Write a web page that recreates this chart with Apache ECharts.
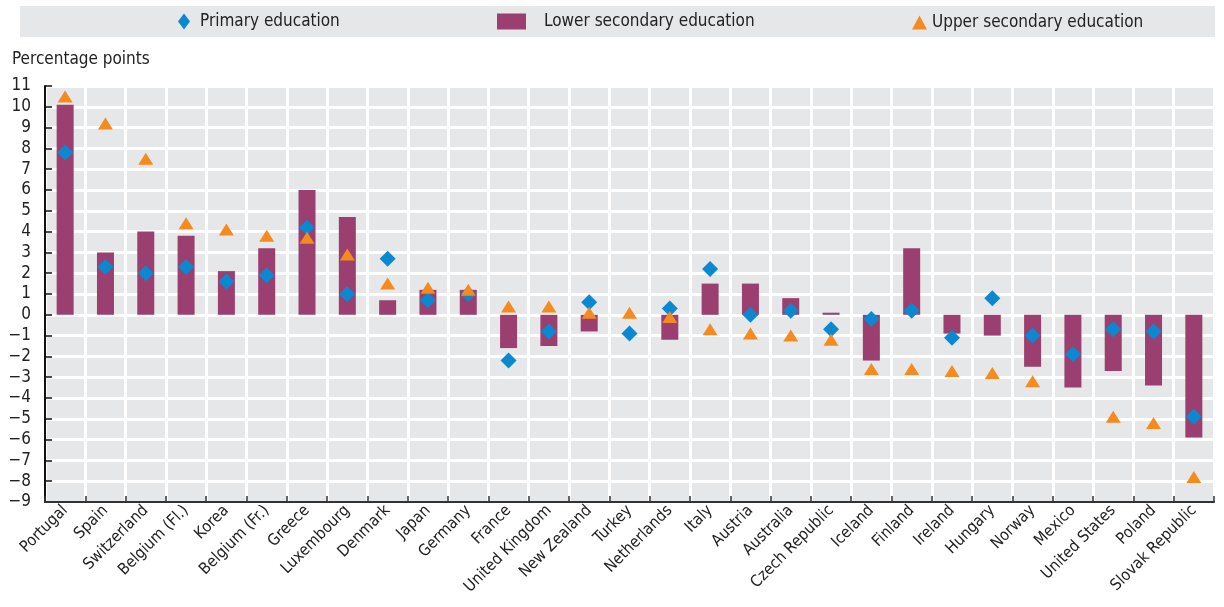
<!DOCTYPE html>
<html>
<head>
<meta charset="utf-8">
<title>Change in percentage points by education level</title>
<script src="https://cdn.jsdelivr.net/npm/echarts@6/dist/echarts.min.js"></script>
<style>
  html, body { margin: 0; padding: 0; background: #fff; }
  #chart { width: 1224px; height: 607px; }
</style>
</head>
<body>
<div id="chart"></div>
<script>
var countries = ['Portugal', 'Spain', 'Switzerland', 'Belgium (Fl.)', 'Korea', 'Belgium (Fr.)', 'Greece',
  'Luxembourg', 'Denmark', 'Japan', 'Germany', 'France', 'United Kingdom', 'New Zealand', 'Turkey',
  'Netherlands', 'Italy', 'Austria', 'Australia', 'Czech Republic', 'Iceland', 'Finland', 'Ireland',
  'Hungary', 'Norway', 'Mexico', 'United States', 'Poland', 'Slovak Republic'];

// bars
var lowerSecondary = [10.1, 3.0, 4.0, 3.8, 2.1, 3.2, 6.0, 4.7, 0.7, 1.2, 1.2, -1.6, -1.5, -0.8, null,
  -1.2, 1.5, 1.5, 0.8, 0.1, -2.2, 3.2, -0.9, -1.0, -2.5, -3.5, -2.7, -3.4, -5.9];
// diamonds
var primary = [7.8, 2.3, 2.0, 2.3, 1.6, 1.9, 4.2, 1.0, 2.7, 0.7, 1.0, -2.2, -0.8, 0.6, -0.9,
  0.3, 2.2, 0.0, 0.2, -0.7, -0.2, 0.2, -1.1, 0.8, -1.0, -1.9, -0.7, -0.8, -4.9];
// triangles
var upperSecondary = [10.5, 9.2, 7.5, 4.4, 4.1, 3.8, 3.7, 2.9, 1.5, 1.3, 1.2, 0.4, 0.4, 0.1, 0.1,
  -0.1, -0.7, -0.9, -1.0, -1.2, -2.6, -2.6, -2.7, -2.8, -3.2, null, -4.9, -5.2, -7.8];

var yMin = -9, yMax = 11, yStep = 1;

var FONT = "'Liberation Sans Narrow', 'DejaVu Sans Condensed', 'Roboto', sans-serif";
var GRAY = '#e6e7e8';

var myChart = echarts.init(document.getElementById('chart'));

var option = {
  animation: false,
  textStyle: { fontFamily: FONT, color: '#222' },
  graphic: [
    { type: 'rect', left: 20, top: 6, shape: { width: 1195, height: 31 }, style: { fill: GRAY }, z: -1 },
    { type: 'text', left: 12, top: 51, style: { text: 'Percentage points', font: '17px ' + FONT, fill: '#222' } }
  ],
  legend: [
    {
      data: [{ name: 'Primary education', icon: 'diamond' }],
      left: 178, top: 13, padding: 0, itemWidth: 12, itemHeight: 16,
      textStyle: { fontSize: 17, color: '#222', padding: [0, 0, 0, 5] }
    },
    {
      data: [{ name: 'Lower secondary education', icon: 'rect' }],
      left: 497, top: 13, padding: 0, itemWidth: 29, itemHeight: 16,
      textStyle: { fontSize: 17, color: '#222', padding: [0, 0, 0, 13] }
    },
    {
      data: [{ name: 'Upper secondary education', icon: 'triangle' }],
      left: 912, top: 14, padding: 0, itemWidth: 15, itemHeight: 14,
      textStyle: { fontSize: 17, color: '#222', padding: [0, 0, 0, 0] }
    }
  ],
  grid: {
    left: 45, right: 10, top: 86, bottom: 105,
    show: true, backgroundColor: GRAY, borderWidth: 0
  },
  xAxis: [
    {
      type: 'category',
      data: countries,
      position: 'bottom',
      axisLine: { show: false },
      axisTick: { show: false },
      axisLabel: { interval: 0, rotate: 45, fontSize: 16, margin: 6, color: '#222' },
      splitLine: { show: true, interval: 0, lineStyle: { color: '#fff', width: 3 } }
    },
    {
      // the zero line with its small ticks
      type: 'category',
      data: countries,
      position: 'bottom',
      z: 10,
      axisLine: { show: true, onZero: true, lineStyle: { color: '#333', width: 2 } },
      axisTick: { show: true, inside: true, length: 6, interval: 0, lineStyle: { color: '#333', width: 1.5 } },
      axisLabel: { show: false },
      splitLine: { show: false }
    }
  ],
  yAxis: {
    type: 'value',
    min: yMin, max: yMax, interval: yStep,
    axisLine: { show: true, lineStyle: { color: '#111', width: 2 } },
    axisTick: { show: true, inside: true, length: 7, lineStyle: { color: '#111', width: 1.5 } },
    axisLabel: {
      fontSize: 17, margin: 14, color: '#222',
      formatter: function (v) { return v < 0 ? '\u2212' + Math.abs(v) : String(v); }
    },
    splitLine: { show: true, lineStyle: { color: '#fff', width: 3 } }
  },
  series: [
    {
      name: 'Lower secondary education',
      type: 'bar',
      data: lowerSecondary,
      barWidth: 17,
      itemStyle: { color: '#9b3e70' },
      z: 2
    },
    {
      name: 'Primary education',
      type: 'scatter',
      data: primary,
      symbol: 'diamond',
      symbolSize: 16,
      itemStyle: { color: '#0a89d0', opacity: 1 },
      z: 3
    },
    {
      name: 'Upper secondary education',
      type: 'scatter',
      data: upperSecondary,
      symbol: 'triangle',
      symbolSize: [15, 12],
      itemStyle: { color: '#f58a1f', opacity: 1 },
      z: 4
    }
  ]
};

myChart.setOption(option);
</script>
</body>
</html>
